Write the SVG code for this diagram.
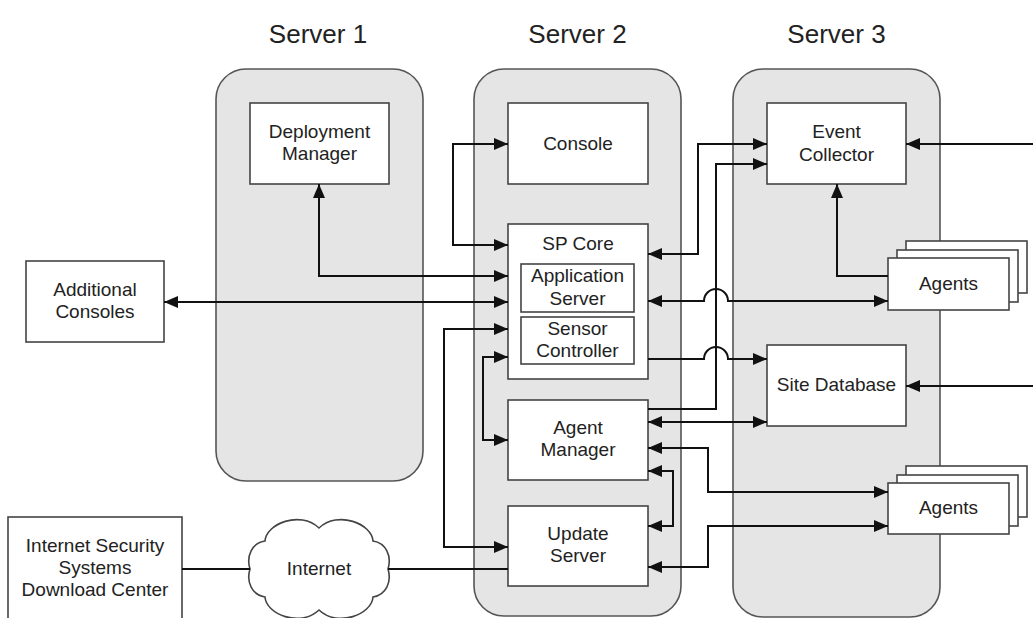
<svg xmlns="http://www.w3.org/2000/svg" width="1033" height="618" viewBox="0 0 1033 618">
<style>
.srv{fill:#e5e5e5;stroke:#555;stroke-width:1.6}
.box{fill:#fff;stroke:#444;stroke-width:1.6}
.t{font-family:"Liberation Sans",Arial,sans-serif;font-size:19px;fill:#222;text-anchor:middle}
.title{font-family:"Liberation Sans",Arial,sans-serif;font-size:26px;fill:#222;text-anchor:middle}
.c{fill:none;stroke:#111;stroke-width:2}
.a{marker-end:url(#ah)}
.b{marker-start:url(#ah);marker-end:url(#ah)}
</style>
<defs>
<marker id="ah" viewBox="0 0 14 12" refX="14" refY="6" markerWidth="14" markerHeight="12" markerUnits="userSpaceOnUse" orient="auto-start-reverse">
<path d="M0,0 L14,6 L0,12 z" fill="#111"/>
</marker>
</defs>
<rect width="1033" height="618" fill="#fff"/>

<g id="server1">
<rect class="srv" x="216" y="69" width="207" height="412" rx="30"/>
<text class="title" x="318" y="43">Server 1</text>
</g>
<g id="server2">
<rect class="srv" x="474" y="69" width="207" height="547" rx="30"/>
<text class="title" x="577.5" y="43">Server 2</text>
</g>
<g id="server3">
<rect class="srv" x="733" y="69" width="207" height="548" rx="30"/>
<text class="title" x="836.5" y="43">Server 3</text>
</g>

<g id="deployment-manager">
<rect class="box" x="250" y="103" width="139" height="81"/>
<text class="t" x="319.5" y="138">Deployment</text>
<text class="t" x="319.5" y="160">Manager</text>
</g>
<g id="console">
<rect class="box" x="508" y="103" width="140" height="81"/>
<text class="t" x="578" y="150">Console</text>
</g>
<g id="sp-core">
<rect class="box" x="508" y="224" width="140" height="155"/>
<text class="t" x="578" y="250">SP Core</text>
</g>
<g id="application-server">
<rect class="box" x="521" y="264" width="113" height="48"/>
<text class="t" x="577.5" y="282">Application</text>
<text class="t" x="577.5" y="305">Server</text>
</g>
<g id="sensor-controller">
<rect class="box" x="521" y="317" width="113" height="47"/>
<text class="t" x="577.5" y="335">Sensor</text>
<text class="t" x="577.5" y="357">Controller</text>
</g>
<g id="agent-manager">
<rect class="box" x="508" y="400" width="140" height="80"/>
<text class="t" x="578" y="434">Agent</text>
<text class="t" x="578" y="456">Manager</text>
</g>
<g id="update-server">
<rect class="box" x="508" y="506" width="140" height="80"/>
<text class="t" x="578" y="540">Update</text>
<text class="t" x="578" y="562">Server</text>
</g>
<g id="event-collector">
<rect class="box" x="767" y="103" width="139" height="81"/>
<text class="t" x="836.5" y="138">Event</text>
<text class="t" x="836.5" y="161">Collector</text>
</g>
<g id="site-database">
<rect class="box" x="767" y="345" width="139" height="81"/>
<text class="t" x="836.5" y="391">Site Database</text>
</g>
<g id="agents-1">
<rect class="box" x="906" y="241" width="121" height="52"/>
<rect class="box" x="897" y="250" width="121" height="52"/>
<rect class="box" x="888" y="258" width="121" height="52"/>
<text class="t" x="948.5" y="290">Agents</text>
</g>
<g id="agents-2">
<rect class="box" x="906" y="466" width="121" height="51"/>
<rect class="box" x="897" y="475" width="121" height="51"/>
<rect class="box" x="888" y="483" width="121" height="51"/>
<text class="t" x="948.5" y="514">Agents</text>
</g>
<g id="additional-consoles">
<rect class="box" x="26" y="261" width="138" height="81"/>
<text class="t" x="95" y="296">Additional</text>
<text class="t" x="95" y="318">Consoles</text>
</g>
<g id="iss-download-center">
<rect class="box" x="8" y="517" width="174" height="110"/>
<text class="t" x="95" y="552">Internet Security</text>
<text class="t" x="95" y="574">Systems</text>
<text class="t" x="95" y="596">Download Center</text>
</g>
<g id="internet">
<path class="box" d="M250,569 C246,556 252,543 265,541 C266,524 300,510 319,528 C338,510 372,524 373,541 C386,543 392,556 388,569 C392,582 386,595 373,597 C372,614 338,628 319,610 C300,628 266,614 265,597 C252,595 246,582 250,569 Z"/>
<text class="t" x="319" y="575">Internet</text>
</g>

<g id="connectors">
<path class="c b" d="M508,144 H453 V245 H508"/>
<path class="c b" d="M319,184 V276 H508"/>
<path class="c b" d="M164,302 H508"/>
<path class="c b" d="M508,329 H444 V547 H508"/>
<path class="c b" d="M508,357 H483 V440 H508"/>
<path class="c b" d="M767,144 H698 V254 H648"/>
<path class="c a" d="M648,409 H716 V164 H767"/>
<path class="c b" d="M648,301 H704 A12,12 0 0 1 728,301 H888"/>
<path class="c a" d="M648,359 H704 A12,12 0 0 1 728,359 H767"/>
<path class="c b" d="M648,422 H767"/>
<path class="c b" d="M648,448 H708 V492 H888"/>
<path class="c b" d="M648,471 H673 V526 H648"/>
<path class="c b" d="M648,567 H708 V526 H888"/>
<path class="c a" d="M888,276 H837 V184"/>
<path class="c a" d="M1033,144 H906"/>
<path class="c a" d="M1033,386 H906"/>
<path class="c" d="M182,569 H250"/>
<path class="c" d="M388,569 H508"/>
</g>
</svg>
